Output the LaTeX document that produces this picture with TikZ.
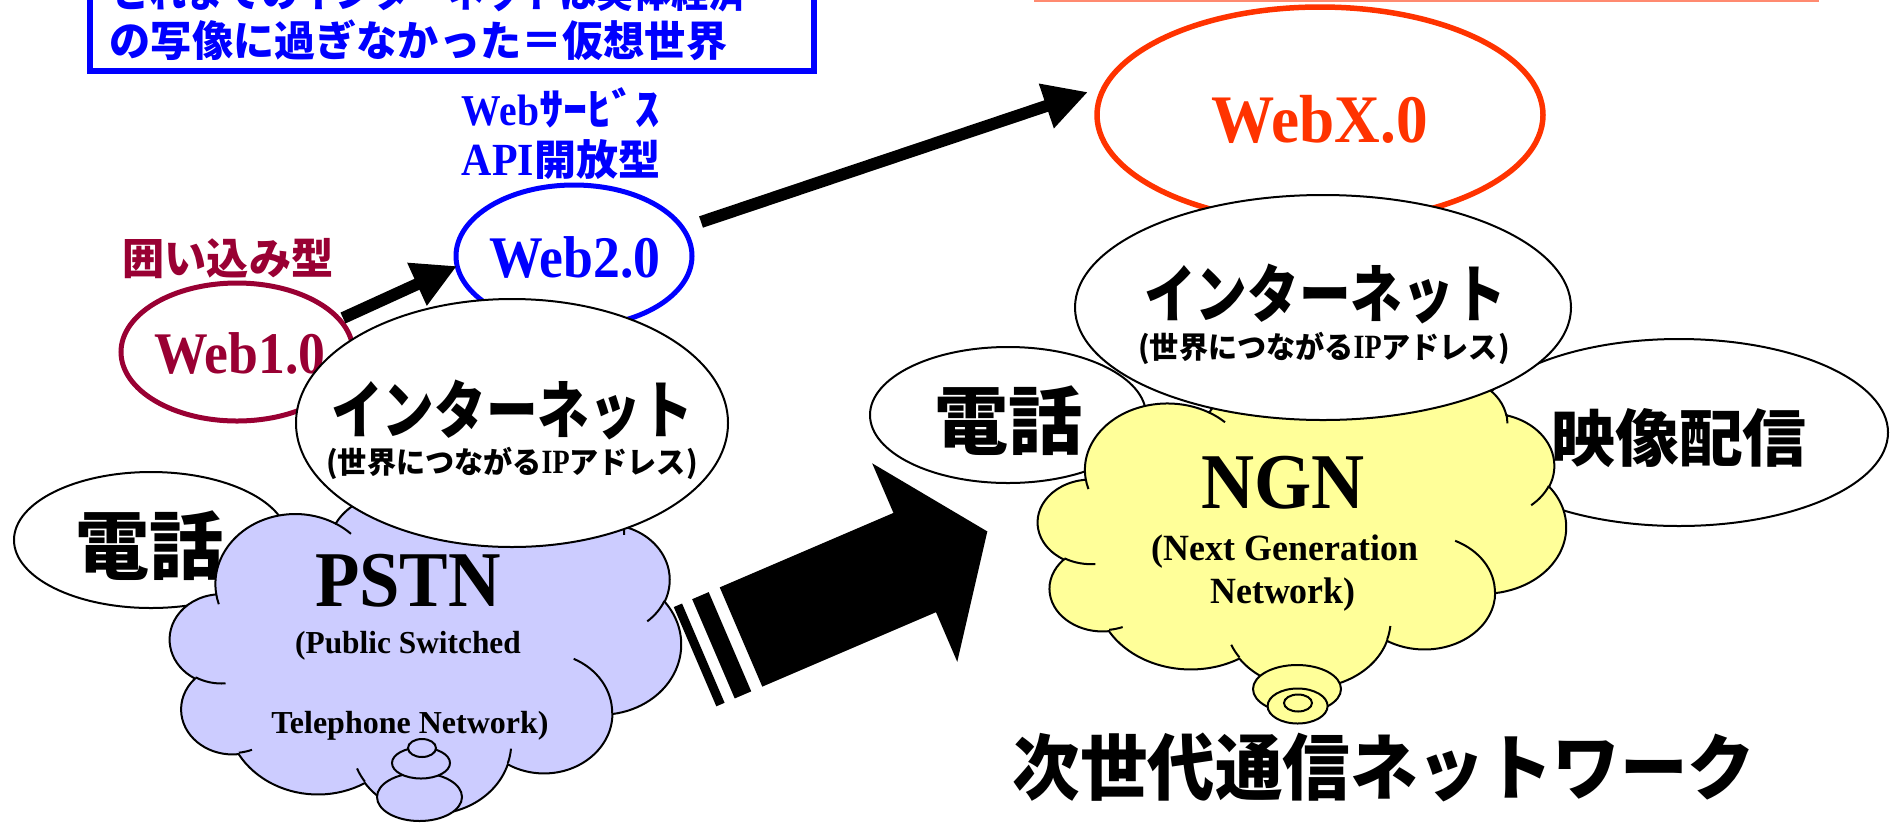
\documentclass[tikz,border=0pt]{standalone}
\usepackage{fontspec}
\usepackage{graphicx}
\setmainfont{Liberation Serif}
\newfontfamily\jp{Noto Sans CJK JP}
\usetikzlibrary{shapes.geometric,arrows.meta}
\definecolor{maroon}{HTML}{990033}
\definecolor{webblue}{HTML}{0000FF}
\definecolor{xred}{HTML}{FF3300}
\definecolor{lav}{HTML}{CCCCFF}
\definecolor{ylw}{HTML}{FFFF99}
\definecolor{salmon}{HTML}{FF8A70}
\newcommand\fs[1]{\fontsize{#1}{#1}\selectfont}
\newcommand\sx[2]{\scalebox{#1}[1]{#2}}
\foreach \i/\w/\h/\s/\d in {1/67.53/91.90/-190.4875/123.7805,2/53.33/72.67/-144.1024/89.9452,3/43.65/59.45/-145.8079/99.7230,4/48.57/65.95/-130.9861/117.2417,5/53.33/72.73/-78.7089/109.0269,6/67.75/92.20/-46.2673/130.2690,7/57.85/78.67/0.6250/114.0333,8/67.52/92.15/22.4516/115.1726,9/77.20/105.43/66.2426/75.7110,10/43.60/59.18/-274.9421/146.7356,11/43.45/59.45/-246.8285/152.5189,12/43.45/59.45/86.7420/26.4295,13/43.60/59.18/73.6105/11.4475,14/67.52/92.15/137.6242/14.0811,15/67.52/92.15/6.4533/15.9984,16/57.85/78.67/-70.2924/70.9174,17/53.33/72.73/30.3180/27.7515,18/48.57/65.95/-13.7443/14.8589,19/48.57/65.95/-149.1815/18.1954,20/43.65/59.45/-163.4943/17.6864,21/67.53/91.90/-66.7070/12.3194,22/67.53/91.90/157.6544/11.8605}{%
  \pgfmathsetmacro\ta{atan2(\w*sin(\s),\h*cos(\s))}%
  \pgfmathsetmacro\tb{atan2(\w*sin(\s+\d),\h*cos(\s+\d))}%
  \pgfmathsetmacro\td{mod(\tb-(\ta)+720,360)}%
  \expandafter\xdef\csname cA\i\endcsname{\ta}%
  \expandafter\xdef\csname cD\i\endcsname{\td}%
}
\newcommand\carc[3]{arc[x radius=#2, y radius=#3, start angle=\csname cA#1\endcsname, delta angle=\csname cD#1\endcsname]}
\newcommand\cloudshape{(39.00,143.70) \carc{1}{67.53}{91.90} \carc{2}{53.33}{72.67} \carc{3}{43.65}{59.45} \carc{4}{48.57}{65.95} \carc{5}{53.33}{72.73} \carc{6}{67.75}{92.20} \carc{7}{57.85}{78.67} \carc{8}{67.52}{92.15} \carc{9}{77.20}{105.43} \carc{10}{43.60}{59.18} \carc{11}{43.45}{59.45} -- cycle}
\newcommand\cloudinner{(46.93,261.77) \carc{12}{43.45}{59.45} (69.28,348.99) \carc{13}{43.60}{59.18} (164.78,390.90) \carc{14}{67.52}{92.15} (288.27,347.51) \carc{15}{67.52}{92.15} (341.29,229.54) \carc{16}{57.85}{78.67} (417.98,153.54) \carc{17}{53.33}{72.73} (383.24,54.26) \carc{18}{48.57}{65.95} (290.78,39.52) \carc{19}{48.57}{65.95} (221.41,47.20) \carc{20}{43.65}{59.45} (140.00,51.92) \carc{21}{67.53}{91.90} (41.27,157.89) \carc{22}{67.53}{91.90}}
\begin{document}
\begin{tikzpicture}[x=1pt,y=-1pt,
  thinoval/.style={ellipse, draw=black, line width=2pt, fill=white, inner sep=0pt, outer sep=0pt},
  webring/.style={ellipse, line width=5pt, fill=white, inner sep=0pt, outer sep=0pt},
  cbub/.style={ellipse, draw=black, line width=2pt, inner sep=0pt, outer sep=0pt},
  cloudline/.style={draw=black, line width=2pt},
  lbl/.style={inner sep=0pt, outer sep=0pt},
  warrow/.style={line width=12pt, -{Triangle[length=44pt,width=44pt]}},
]
\useasboundingbox (0,0) rectangle (1890,823);
\fill[white] (0,0) rectangle (1890,823);
% top box
\node[draw=webblue, line width=6pt, minimum width=724pt, minimum height=220pt, inner sep=0pt, anchor=south west] (topbox) at (87,73.5) {};
\node[lbl, text=webblue, font={\jp\bfseries\fs{42}}] (line1) at (429,-8) {\sx{0.887}{これまでのインターネットは実体経済}};
\node[lbl, text=webblue, font={\jp\bfseries\fs{42}}] (line2) at (418.5,40) {\sx{0.98}{の写像に過ぎなかった＝仮想世界}};
\draw[salmon, line width=2pt] (1034,0.5) -- (1819,0.5);
% Web ovals
\node[webring, draw=xred, line width=5.5pt, minimum width=446pt, minimum height=216pt] (webx) at (1320,115) {};
\node[lbl, text=xred, font={\bfseries\fs{68}}, anchor=base] (webxt) at (1320,142) {\sx{0.93}{WebX.0}};
\node[webring, draw=webblue, minimum width=236pt, minimum height=142pt] (web2) at (574,256) {};
\node[lbl, text=webblue, font={\bfseries\fs{59}}, anchor=base] (web2t) at (575,277) {\sx{0.91}{Web2.0}};
\node[lbl, text=webblue, anchor=base] (wsv) at (561,125) {{\bfseries\fs{44}\sx{0.9}{Web}}{\jp\bfseries\fs{44}\sx{1.1}{ｻｰﾋﾞｽ}}};
\node[lbl, text=webblue, anchor=base] (api) at (561,175) {{\bfseries\fs{46}\sx{0.91}{API}}{\jp\bfseries\fs{42}開放型}};
\node[webring, draw=maroon, minimum width=232pt, minimum height=138pt] (web1) at (237,352) {};
\node[lbl, text=maroon, font={\bfseries\fs{59}}, anchor=base] (web1t) at (240,373) {\sx{0.91}{Web1.0}};
\node[lbl, text=maroon, font={\jp\bfseries\fs{43}}] (kakoi) at (228,259) {\sx{0.98}{囲い込み型}};
% left group
\node[thinoval, minimum width=274pt, minimum height=136pt] (tel1) at (151,540) {};
\node[lbl, font={\jp\bfseries\fs{74}}] (tel1t) at (149,546) {電話};
\begin{scope}[shift={(170,484)}, x=1.18287pt, y=-0.76157pt]
  \draw[cloudline, fill=lav] \cloudshape;
  \draw[cloudline] \cloudinner;
\end{scope}
\node[cbub, fill=lav, minimum width=85pt, minimum height=48pt] (pb1) at (419.5,797) {};
\node[cbub, fill=lav, minimum width=58pt, minimum height=31pt] (pb2) at (421,763) {};
\node[cbub, fill=lav, minimum width=28pt, minimum height=18pt] (pb3) at (422,748) {};
\node[lbl, font={\bfseries\fs{79}}, anchor=base] (pstnt) at (408,606) {\sx{0.92}{PSTN}};
\node[lbl, font={\bfseries\fs{32}}, anchor=base] (pstn2) at (408,653) {\sx{0.98}{(Public Switched}};
\node[lbl, font={\bfseries\fs{32}}, anchor=base] (pstn3) at (410,733) {Telephone Network)};
\node[thinoval, minimum width=432pt, minimum height=248pt] (inet1) at (512,423) {};
\node[lbl, font={\jp\bfseries\fs{63}}] (inet1t) at (512,410) {\sx{0.82}{インターネット}};
\node[lbl, font={\jp\bfseries\fs{30}}] (inet1s) at (512,463) {\sx{0.97}{(世界につながる{\rmfamily\fs{34}\sx{0.85}{IP}}アドレス)}};
% right group
\node[thinoval, minimum width=276pt, minimum height=136pt] (tel2) at (1008,415) {};
\node[thinoval, minimum width=418pt, minimum height=187pt] (vid) at (1679,432.5) {};
\begin{scope}[shift={(1038,375)}, x=1.22222pt, y=-0.72222pt]
  \draw[cloudline, fill=ylw] \cloudshape;
  \draw[cloudline] \cloudinner;
\end{scope}
\node[cbub, fill=ylw, minimum width=88pt, minimum height=48pt] (nb1) at (1297,689) {};
\node[cbub, fill=ylw, minimum width=60pt, minimum height=35pt] (nb2) at (1297.6,706) {};
\node[cbub, fill=ylw, minimum width=28pt, minimum height=17pt] (nb3) at (1298,703) {};
\node[lbl, font={\bfseries\fs{79}}, anchor=base] (ngnt) at (1283,508) {\sx{0.93}{NGN}};
\node[lbl, font={\bfseries\fs{37}}, anchor=base] (ngn2) at (1285,560) {\sx{0.97}{(Next Generation}};
\node[lbl, font={\bfseries\fs{37}}, anchor=base] (ngn3) at (1283,603) {\sx{0.97}{Network)}};
\node[thinoval, minimum width=496pt, minimum height=225pt] (inet2) at (1323,307.5) {};
\node[lbl, font={\jp\bfseries\fs{63}}] (inet2t) at (1325,294) {\sx{0.82}{インターネット}};
\node[lbl, font={\jp\bfseries\fs{30}}] (inet2s) at (1324,348) {\sx{0.97}{(世界につながる{\rmfamily\fs{34}\sx{0.85}{IP}}アドレス)}};
\node[lbl, font={\jp\bfseries\fs{74}}] (tel2t) at (1008,421) {電話};
\node[lbl, font={\jp\bfseries\fs{62}}] (vidt) at (1679,438) {\sx{1.03}{映像配信}};
\node[lbl, font={\jp\bfseries\fs{72}}] (ngnlabel) at (1384,767) {\sx{0.938}{次世代通信ネットワーク}};
% arrows
\coordinate (a1s) at (343,318);
\coordinate (a1e) at (457,266);
\draw[warrow] (a1s) -- (a1e);
\coordinate (a2s) at (701,222);
\coordinate (a2e) at (1088,92);
\draw[warrow] (a2s) -- (a2e);
\begin{scope}[shift={(741,637)}, rotate=23.2]
  \fill (0,-54) -- (189,-54) -- (189,-108) -- (268,0) -- (189,108) -- (189,54) -- (0,54) -- cycle;
  \fill (-30,-54) rectangle (-12,54);
  \fill (-50,-54) rectangle (-41,54);
\end{scope}
\end{tikzpicture}
\end{document}
